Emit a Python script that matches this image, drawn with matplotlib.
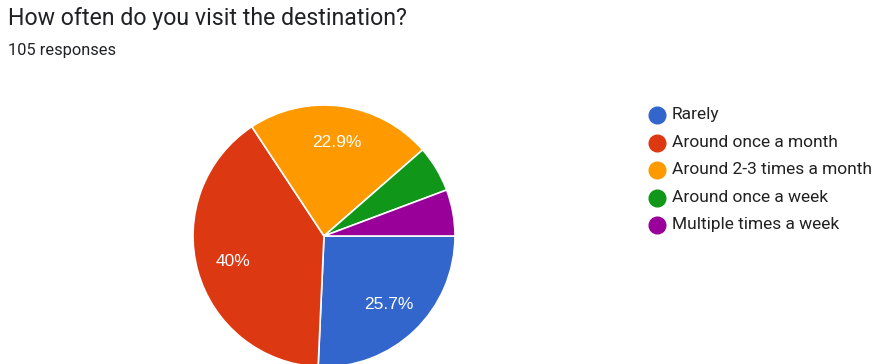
import matplotlib
matplotlib.use("Agg")
import numpy as np
import matplotlib.pyplot as plt
from matplotlib.lines import Line2D

plt.rcParams['font.family'] = ['Roboto', 'DejaVu Sans']

title = "How often do you visit the destination?"
subtitle = "105 responses"
categories = ["Rarely", "Around once a month", "Around 2-3 times a month",
              "Around once a week", "Multiple times a week"]
counts = [27, 42, 24, 6, 6]
colors = ["#3366cc", "#dc3912", "#ff9900", "#109618", "#990099"]

W, H = 875, 364
fig = plt.figure(figsize=(W / 100, H / 100), dpi=100)
fig.patch.set_facecolor("white")

# pie axes placed in pixel units: centre (324, 236 from top), radius 131
cx, cy, r = 324, H - 236, 131
ax = fig.add_axes([(cx - r) / W, (cy - r) / H, 2 * r / W, 2 * r / H])

total = sum(counts)


def pct_label(p):
    # small slices get no label
    if p < 10:
        return ""
    s = f"{p:.1f}".rstrip("0").rstrip(".")
    return s + "%"


wedges, texts = ax.pie(counts, colors=colors, startangle=0, counterclock=False,
                       radius=1, wedgeprops=dict(edgecolor="white", linewidth=1.2))
ax.set_xlim(-1, 1)
ax.set_ylim(-1, 1)
ax.set_aspect("equal")
ax.axis("off")

for w, c in zip(wedges, counts):
    txt = pct_label(100 * c / total)
    if not txt:
        continue
    mid = np.deg2rad((w.theta1 + w.theta2) / 2)
    ax.text(0.72 * np.cos(mid), 0.72 * np.sin(mid), txt, ha="center", va="center",
            color="white", fontsize=12.5, family=["Liberation Sans", "DejaVu Sans"])

fig.text(8 / W, 1 - 19 / H, title, fontsize=16.7, color="#202124", va="center", ha="left")
fig.text(8 / W, 1 - 50 / H, subtitle, fontsize=11.8, color="#202124", va="center", ha="left")

# legend
ys = [115, 143, 170, 198, 225]
for lab, col, y in zip(categories, colors, ys):
    fig.add_artist(Line2D([657 / W], [1 - y / H], marker="o", markersize=12,
                          color=col, linestyle="none", transform=fig.transFigure))
    fig.text(672 / W, 1 - y / H, lab, fontsize=12.5, color="#222222", va="center", ha="left")

fig.savefig("out.png", dpi=100, facecolor="white")
